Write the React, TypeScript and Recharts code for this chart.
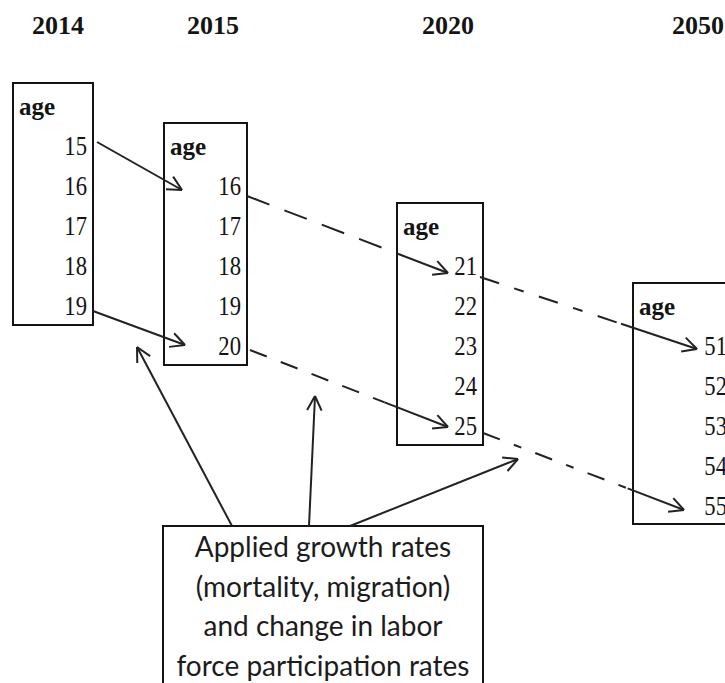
import React from 'react';
import { ComposedChart, XAxis, YAxis, Scatter, ReferenceArea, ReferenceLine } from 'recharts';

// ---------- data ----------
const years = ['2014', '2015', '2020', '2050'];
const ages2014 = [15, 16, 17, 18, 19];
const ages2015 = [16, 17, 18, 19, 20];
const ages2020 = [21, 22, 23, 24, 25];
const ages2050 = [51, 52, 53, 54, 55];
const ageHeader = 'age';
const noteLines = [
  'Applied growth rates',
  '(mortality, migration)',
  'and change in labor',
  'force participation rates',
];

// ---------- layout (pixel-space axes) ----------
const W = 725;
const H = 683;
const ROW = 40;
const YEAR_X = [32, 187, 422, 672];
const YEAR_BASE = 34;
const BOXES = [
  { left: 13, right: 93, top: 83, bottom: 325, ageX: 19, numRight: 87 },
  { left: 164, right: 247, top: 123, bottom: 365, ageX: 170, numRight: 241 },
  { left: 397, right: 483, top: 203, bottom: 445, ageX: 403, numRight: 477 },
  { left: 633, right: 760, top: 283, bottom: 524, ageX: 639, numRight: 727 },
];
const NOTE = { left: 163, right: 483, top: 526, bottom: 700, cx: 323, firstBase: 557, lineGap: 39.6 };

type Arrow = { x1: number; y1: number; x2: number; y2: number; dash?: string; solidFrac?: number };
const ARROWS: Arrow[] = [
  { x1: 97, y1: 142, x2: 182, y2: 190 },
  { x1: 93, y1: 311, x2: 185, y2: 345 },
  { x1: 247, y1: 196, x2: 448, y2: 273, dash: '24 16', solidFrac: 0.25 },
  { x1: 250, y1: 350, x2: 448, y2: 427, dash: '18 15', solidFrac: 0.32 },
  { x1: 480, y1: 277, x2: 697, y2: 349, dash: '20 16 10 16', solidFrac: 0.35 },
  { x1: 483, y1: 433, x2: 684, y2: 510, dash: '18 15 8 15', solidFrac: 0.28 },
  { x1: 232, y1: 526, x2: 137, y2: 347 },
  { x1: 309, y1: 526, x2: 315, y2: 396 },
  { x1: 350, y1: 526, x2: 518, y2: 459 },
];

const INK = '#141414';
const LINE = '#222';

const ageLists = [ages2014, ages2015, ages2020, ages2050];

const yearPoints = years.map((y, i) => ({ x: YEAR_X[i], y: YEAR_BASE, label: y }));
const headerPoints = BOXES.map((b) => ({ x: b.ageX, y: b.top + 32, label: ageHeader }));
const numberPoints = ageLists.flatMap((list, i) =>
  list.map((a, j) => ({ x: BOXES[i].numRight, y: BOXES[i].top + 72 + j * ROW, label: String(a) }))
);
const notePoints = noteLines.map((t, i) => ({ x: NOTE.cx, y: NOTE.firstBase + i * NOTE.lineGap, label: t }));

const serif = '"Liberation Serif", "Times New Roman", serif';

const YearShape = (p: any) => (
  <text x={p.cx} y={p.cy} fontFamily={serif} fontWeight="bold" fontSize={26} fill={INK}>
    {p.payload.label}
  </text>
);
const HeaderShape = (p: any) => (
  <text x={p.cx} y={p.cy} fontFamily={serif} fontWeight="bold" fontSize={25} fill={INK}>
    {p.payload.label}
  </text>
);
const NumberShape = (p: any) => (
  <text
    transform={`translate(${p.cx},${p.cy}) scale(0.84,1)`}
    textAnchor="end"
    fontFamily={serif}
    fontSize={27}
    fill={INK}
  >
    {p.payload.label}
  </text>
);
const NoteShape = (p: any) => (
  <text x={p.cx} y={p.cy} textAnchor="middle" fontFamily="Lato, sans-serif" fontSize={28} fill="#1c1c1c">
    {p.payload.label}
  </text>
);

function arrowParts(a: Arrow) {
  const segs: { p: [number, number, number, number]; dash?: string }[] = [];
  if (a.dash) {
    const f = 1 - (a.solidFrac ?? 0);
    const mx = a.x1 + (a.x2 - a.x1) * f;
    const my = a.y1 + (a.y2 - a.y1) * f;
    segs.push({ p: [a.x1, a.y1, mx, my], dash: a.dash });
    segs.push({ p: [mx, my, a.x2, a.y2] });
  } else {
    segs.push({ p: [a.x1, a.y1, a.x2, a.y2] });
  }
  const th = Math.atan2(a.y2 - a.y1, a.x2 - a.x1);
  const L = 16;
  const phi = (27 * Math.PI) / 180;
  for (const s of [1, -1]) {
    const ax = a.x2 - L * Math.cos(th + s * phi);
    const ay = a.y2 - L * Math.sin(th + s * phi);
    segs.push({ p: [ax, ay, a.x2, a.y2] });
  }
  return segs;
}

export default function App() {
  return (
    <div style={{ position: 'absolute', left: 0, top: 0, width: W, height: H, overflow: 'hidden', background: '#fff' }}>
      <ComposedChart width={W} height={H} margin={{ top: 0, right: 0, bottom: 0, left: 0 }}>
        <XAxis type="number" dataKey="x" domain={[0, W]} allowDataOverflow hide />
        <YAxis type="number" dataKey="y" domain={[0, H]} allowDataOverflow reversed hide />
        {BOXES.map((b, i) => (
          <ReferenceArea
            key={'box' + i}
            x1={b.left}
            x2={b.right}
            y1={b.top}
            y2={b.bottom}
            fill="none"
            stroke={INK}
            strokeWidth={2}
            ifOverflow="visible"
          />
        ))}
        <ReferenceArea
          x1={NOTE.left}
          x2={NOTE.right}
          y1={NOTE.top}
          y2={NOTE.bottom}
          fill="none"
          stroke={INK}
          strokeWidth={2}
          ifOverflow="visible"
        />
        {ARROWS.flatMap((a, i) =>
          arrowParts(a).map((s, k) => (
            <ReferenceLine
              key={`a${i}-${k}`}
              segment={[
                { x: s.p[0], y: s.p[1] },
                { x: s.p[2], y: s.p[3] },
              ]}
              stroke={LINE}
              strokeWidth={2}
              strokeDasharray={s.dash}
              ifOverflow="visible"
            />
          ))
        )}
        <Scatter data={yearPoints} shape={YearShape} isAnimationActive={false} />
        <Scatter data={headerPoints} shape={HeaderShape} isAnimationActive={false} />
        <Scatter data={numberPoints} shape={NumberShape} isAnimationActive={false} />
        <Scatter data={notePoints} shape={NoteShape} isAnimationActive={false} />
      </ComposedChart>
    </div>
  );
}
